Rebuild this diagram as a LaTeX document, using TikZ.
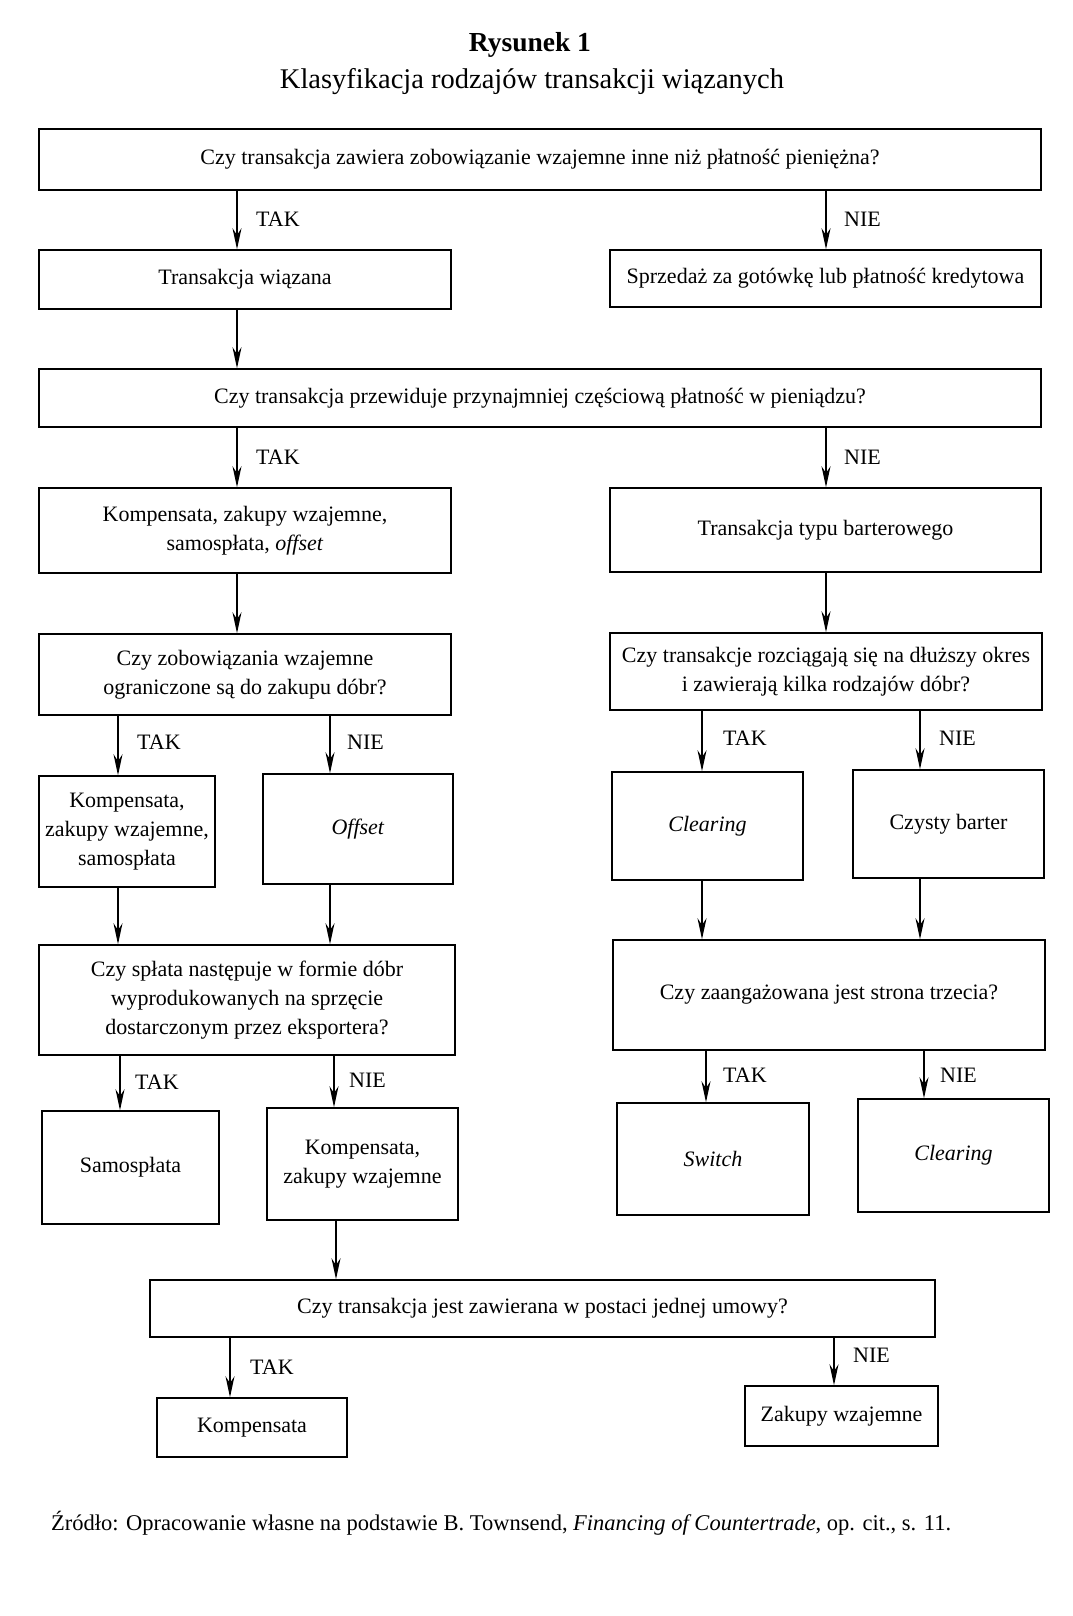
\documentclass[tikz,border=0pt]{standalone}
\usepackage{fontspec}
\setmainfont{Liberation Serif}
\usetikzlibrary{arrows.meta}
\newcommand\fs{\fontsize{22}{29}\selectfont}
\tikzset{
 box/.style={draw, line width=1.5pt, inner sep=2pt, align=center, font=\fs},
 arr/.style={line width=1.3pt, -{Stealth[length=21pt,width=9pt]}},
 lab/.style={anchor=west, inner sep=0pt, font=\fs}
}
\newcommand\mkbox[6]{\node[box,minimum width={(#4-#2)*1pt},minimum height={(#5-#3)*1pt}] (#1) at ({(#2+#4)/2},{(#3+#5)/2}) {#6};}
\begin{document}
\begin{tikzpicture}[x=1pt,y=-1pt]
\useasboundingbox[fill=white] (0,0) rectangle (1072,1616);
\foreach \v in {237,826,118,330,702,920,120,334,706,924,336,230,834} \coordinate (c\v) at (\v,0);
\node[font=\fontsize{27.5}{30}\selectfont\bfseries] (title) at (530,45) {Rysunek 1};
\node[font=\fontsize{28.5}{32}\selectfont] (subtitle) at (532,82) {Klasyfikacja rodzajów transakcji wiązanych};
\mkbox{q1}{39}{129}{1041}{190}{Czy transakcja zawiera zobowiązanie wzajemne inne niż płatność pieniężna?}
\mkbox{tw}{39}{250}{451}{309}{Transakcja wiązana}
\mkbox{sp}{610}{250}{1041}{307}{Sprzedaż za gotówkę lub płatność kredytowa}
\mkbox{q2}{39}{369}{1041}{427}{Czy transakcja przewiduje przynajmniej częściową płatność w pieniądzu?}
\mkbox{k1}{39}{488}{451}{573}{Kompensata, zakupy wzajemne,\\ samospłata, \textit{offset}}
\mkbox{bt}{610}{488}{1041}{572}{Transakcja typu barterowego}
\mkbox{q3}{39}{634}{451}{715}{Czy zobowiązania wzajemne\\ ograniczone są do zakupu dóbr?}
\mkbox{q4}{610}{633}{1042}{710}{Czy transakcje rozciągają się na dłuższy okres\\ i zawierają kilka rodzajów dóbr?}
\mkbox{k2}{39}{776}{215}{887}{Kompensata,\\ zakupy wzajemne,\\ samospłata}
\mkbox{of}{263}{774}{453}{884}{\textit{Offset}}
\mkbox{cl1}{612}{772}{803}{880}{\textit{Clearing}}
\mkbox{cb}{853}{770}{1044}{878}{Czysty barter}
\mkbox{q5}{39}{945}{455}{1055}{Czy spłata następuje w formie dóbr\\ wyprodukowanych na sprzęcie\\ dostarczonym przez eksportera?}
\mkbox{q6}{613}{940}{1045}{1050}{Czy zaangażowana jest strona trzecia?}
\mkbox{sa}{42}{1111}{219}{1224}{Samospłata}
\mkbox{kz}{267}{1108}{458}{1220}{Kompensata,\\ zakupy wzajemne}
\mkbox{sw}{617}{1103}{809}{1215}{\textit{Switch}}
\mkbox{cl2}{858}{1099}{1049}{1212}{\textit{Clearing}}
\mkbox{q7}{150}{1280}{935}{1337}{Czy transakcja jest zawierana w postaci jednej umowy?}
\mkbox{ko}{157}{1398}{347}{1457}{Kompensata}
\mkbox{zw}{745}{1386}{938}{1446}{Zakupy wzajemne}
% arrows
\draw[arr] (q1.south -| c237) -- (tw.north -| c237);
\node[lab] (l1) at (256,219) {TAK};
\draw[arr] (q1.south -| c826) -- (sp.north -| c826);
\node[lab] (l2) at (844,219) {NIE};
\draw[arr] (tw.south -| c237) -- (q2.north -| c237);
\draw[arr] (q2.south -| c237) -- (k1.north -| c237);
\node[lab] (l3) at (256,457) {TAK};
\draw[arr] (q2.south -| c826) -- (bt.north -| c826);
\node[lab] (l4) at (844,457) {NIE};
\draw[arr] (k1.south -| c237) -- (q3.north -| c237);
\draw[arr] (bt.south -| c826) -- (q4.north -| c826);
\draw[arr] (q3.south -| c118) -- (k2.north -| c118);
\node[lab] (l5) at (137,742) {TAK};
\draw[arr] (q3.south -| c330) -- (of.north -| c330);
\node[lab] (l6) at (347,742) {NIE};
\draw[arr] (q4.south -| c702) -- (cl1.north -| c702);
\node[lab] (l7) at (723,738) {TAK};
\draw[arr] (q4.south -| c920) -- (cb.north -| c920);
\node[lab] (l8) at (939,738) {NIE};
\draw[arr] (k2.south -| c118) -- (q5.north -| c118);
\draw[arr] (of.south -| c330) -- (q5.north -| c330);
\draw[arr] (cl1.south -| c702) -- (q6.north -| c702);
\draw[arr] (cb.south -| c920) -- (q6.north -| c920);
\draw[arr] (q5.south -| c120) -- (sa.north -| c120);
\node[lab] (l9) at (135,1082) {TAK};
\draw[arr] (q5.south -| c334) -- (kz.north -| c334);
\node[lab] (l10) at (349,1080) {NIE};
\draw[arr] (q6.south -| c706) -- (sw.north -| c706);
\node[lab] (l11) at (723,1075) {TAK};
\draw[arr] (q6.south -| c924) -- (cl2.north -| c924);
\node[lab] (l12) at (940,1075) {NIE};
\draw[arr] (kz.south -| c336) -- (q7.north -| c336);
\draw[arr] (q7.south -| c230) -- (ko.north -| c230);
\node[lab] (l13) at (250,1367) {TAK};
\draw[arr] (q7.south -| c834) -- (zw.north -| c834);
\node[lab] (l14) at (853,1355) {NIE};
\node[anchor=west, inner sep=0pt, font=\fontsize{22.5}{26}\selectfont] (src) at (51,1523) {Źródło: Opracowanie własne na podstawie B. Townsend, \textit{Financing of Countertrade}, op. cit., s. 11.};
\end{tikzpicture}
\end{document}
